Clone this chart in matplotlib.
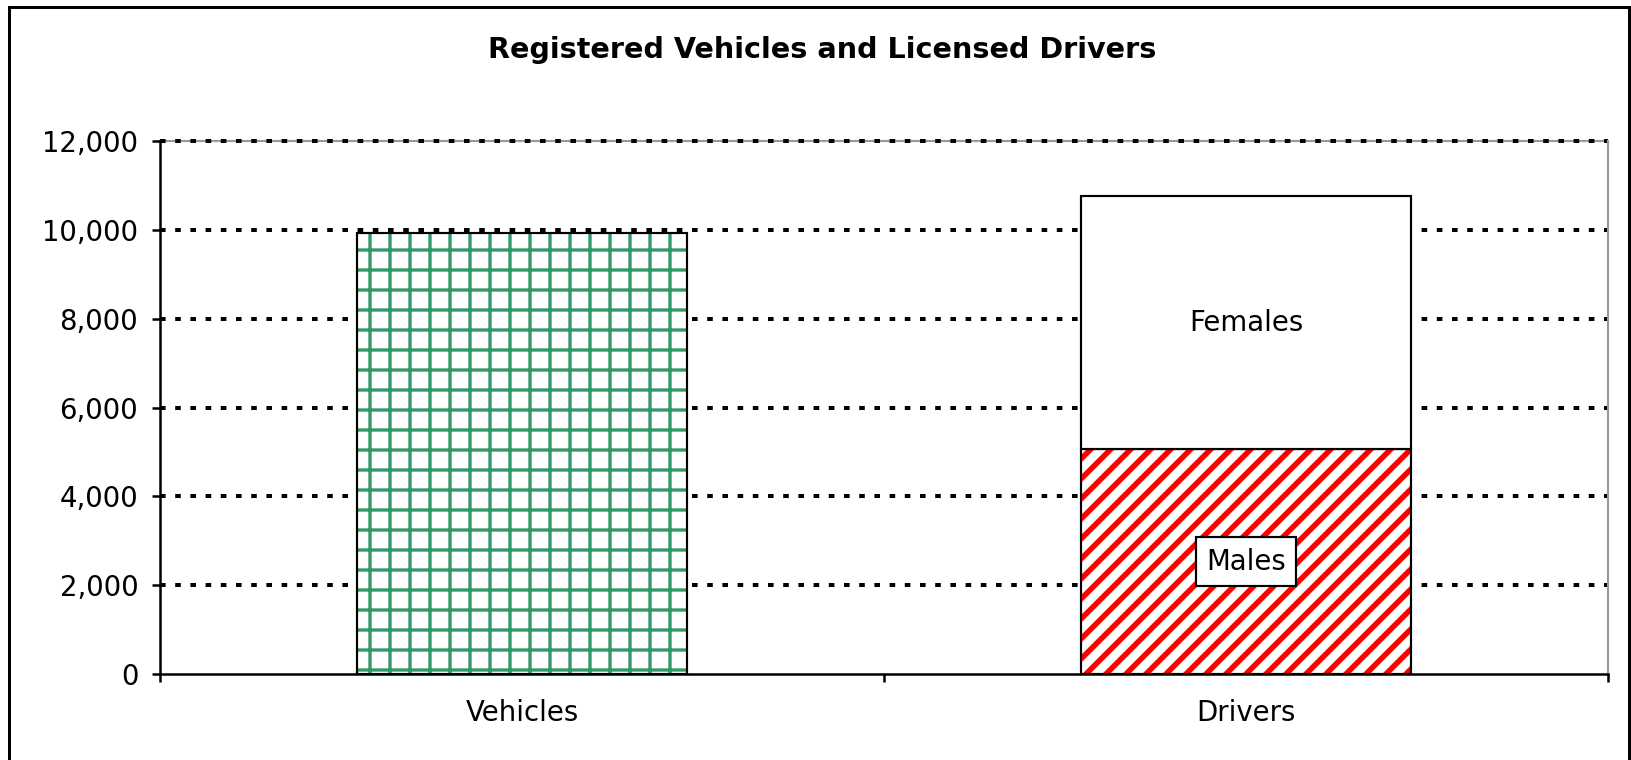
import matplotlib
matplotlib.use("Agg")
import matplotlib.pyplot as plt
from matplotlib.patches import Rectangle
from matplotlib.ticker import FuncFormatter

# ---- data ----
categories = ["Vehicles", "Drivers"]
vehicles = [9930, 0]
males = [0, 5060]
females = [0, 5700]
segment_labels = ["Males", "Females"]
title = "Registered Vehicles and Licensed Drivers"
y_ticks = [0, 2000, 4000, 6000, 8000, 10000, 12000]

DPI = 120
W, H = 1631, 760
plt.rcParams['font.family'] = ['DejaVu Sans']
FS = 16.5

fig = plt.figure(figsize=(W / DPI, H / DPI), dpi=DPI)
ax = fig.add_axes([160 / W, 1 - 674 / H, (1608 - 160) / W, (674 - 141) / H])

x = list(range(len(categories)))
bw = 0.457
green = '#339966'
red = '#ff0000'


def set_hlw(bars, lw):
    for p in bars:
        if hasattr(p, 'set_hatch_linewidth'):
            p.set_hatch_linewidth(lw)


# vehicles bar: white fill with green grid hatch, black outline
with plt.rc_context({'hatch.linewidth': 2.0}):
    vb = ax.bar(x[0], vehicles[0], width=bw, color='white', edgecolor=green,
                hatch='+', linewidth=0, zorder=2)
    set_hlw(vb, 2.0)
ax.bar(x[0], vehicles[0], width=bw, fill=False, edgecolor='black',
       linewidth=1.3, zorder=3)

# drivers: males (red diagonal hatch) + females (white)
with plt.rc_context({'hatch.linewidth': 3.3}):
    mb = ax.bar(x[1], males[1], width=bw, color='white', edgecolor=red,
                hatch='//', linewidth=0, zorder=2)
    set_hlw(mb, 3.3)
ax.bar(x[1], males[1], width=bw, fill=False, edgecolor='black',
       linewidth=1.3, zorder=3)
ax.bar(x[1], females[1], bottom=males[1], width=bw, color='white',
       edgecolor='black', linewidth=1.3, zorder=3)

# segment labels
ax.text(x[1], males[1] / 2, segment_labels[0], ha='center', va='center',
        fontsize=FS, zorder=5,
        bbox=dict(boxstyle='square,pad=0.38', facecolor='white',
                  edgecolor='black', linewidth=1.3))
ax.text(x[1], males[1] + females[1] / 2, segment_labels[1], ha='center',
        va='center', fontsize=FS, zorder=5)

# axes styling
ax.set_xlim(-0.5, len(categories) - 0.5)
ax.set_ylim(0, 12000)
ax.set_yticks(y_ticks)
ax.yaxis.set_major_formatter(FuncFormatter(lambda v, p: f"{int(v):,}"))
ax.set_xticks(x)
ax.set_xticklabels(categories)
ax.set_xticks([i - 0.5 for i in range(len(categories) + 1)], minor=True)
ax.tick_params(axis='x', which='major', length=0, pad=15, labelsize=FS)
ax.tick_params(axis='x', which='minor', length=5, width=1.5, direction='out')
ax.tick_params(axis='y', which='major', length=5, width=1.5, pad=8,
               labelsize=FS, direction='out')

ax.set_axisbelow(True)
ax.yaxis.grid(True, color='black', linewidth=2.4,
              linestyle=(0, (1.4, 2.4)))
fig.canvas.draw()
gls = ax.yaxis.get_major_ticks()
for t in gls:
    t.gridline.set_dash_capstyle('butt')
    t.gridline.set_clip_on(False)
gls[0].gridline.set_visible(False)

ax.spines['left'].set_color('black')
ax.spines['left'].set_linewidth(1.5)
ax.spines['bottom'].set_color('black')
ax.spines['bottom'].set_linewidth(1.5)
ax.spines['bottom'].set_zorder(4)
ax.spines['top'].set_color('#999999')
ax.spines['top'].set_linewidth(1.3)
ax.spines['top'].set_zorder(0.4)
ax.spines['right'].set_color('#999999')
ax.spines['right'].set_linewidth(1.3)

fig.text(822 / W, 1 - 58 / H, title, ha='center', va='baseline',
         fontsize=17.2, fontweight='bold')

# figure border (left, top, right)
fig.patches.append(Rectangle((9 / W, -0.05), (1629 - 9) / W, 1.05 - 7 / H,
                             transform=fig.transFigure, fill=False,
                             edgecolor='black', linewidth=1.8))

fig.savefig('out.png', dpi=DPI)
